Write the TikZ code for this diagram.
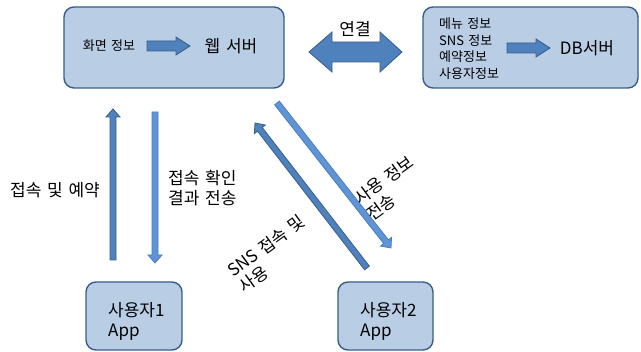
\documentclass[tikz,border=0pt]{standalone}
\usepackage{fontspec}
\setmainfont{Noto Sans CJK KR}[WordSpace=1.5]
\usetikzlibrary{calc}
\definecolor{boxfill}{HTML}{B9CDE5}
\definecolor{boxline}{HTML}{385D8A}
\definecolor{arrfill}{HTML}{4F81BD}
\definecolor{arrline}{HTML}{385D8A}
\definecolor{lightfill}{HTML}{5F95D6}
\definecolor{lightline}{HTML}{4A7EBB}
\newcommand{\blockarrow}[6]{%
  \coordinate (hb) at ($(#3)!#6!(#2)$);
  \draw[#1] ($(#2)!#4!90:(#3)$) -- ($(hb)!#4!-90:(#2)$) -- ($(hb)!#5!-90:(#2)$) -- (#3)
    -- ($(hb)!#5!90:(#2)$) -- ($(hb)!#4!90:(#2)$) -- ($(#2)!#4!-90:(#3)$) -- cycle;
}
\begin{document}
\begin{tikzpicture}[x=1pt,y=-1pt,
  box/.style={draw=boxline, line width=1.4pt, fill=boxfill, rounded corners=10pt},
  smalltext/.style={font=\fontsize{13}{16.7}\selectfont, text=black, inner sep=0pt},
  bigtext/.style={font=\fontsize{17}{20}\selectfont, text=black, inner sep=0pt},
  darkarrow/.style={fill=arrfill, draw=arrline, line width=0.8pt, line join=miter},
  lightarrow/.style={fill=lightfill, draw=lightline, line width=0.8pt, line join=miter}]
\useasboundingbox (0,0) rectangle (641,352);
% boxes
\node[box, minimum width=220pt, minimum height=81pt] (web) at (174,47.5) {};
\node[box, minimum width=215pt, minimum height=81pt] (db) at (530.5,47.5) {};
\node[box, minimum width=96pt, minimum height=68pt] (u1) at (134,316) {};
\node[box, minimum width=95pt, minimum height=68pt] (u2) at (385.5,316) {};
% web box content
\node[smalltext] (scr) at (109,46) {화면 정보};
\node[bigtext] (websrv) at (231,46) {웹 서버};
\coordinate (wa1) at (147,46);
\coordinate (wa2) at (190,46);
\blockarrow{darkarrow}{wa1}{wa2}{5pt}{9pt}{14pt}
% db box content
\node[smalltext, align=left, anchor=west] (dblist) at (439,48.5) {메뉴 정보\\SNS 정보\\예약정보\\사용자정보};
\coordinate (da1) at (507,48);
\coordinate (da2) at (550,48);
\blockarrow{darkarrow}{da1}{da2}{5pt}{9pt}{14pt}
\node[bigtext] (dbsrv) at (587,48) {DB서버};
% double arrow
\node[bigtext] (conn) at (355,29) {연결};
\coordinate (dl) at (309,52);
\coordinate (dr) at (402,52);
\draw[darkarrow] (dl) -- ++(23,-20) -- ++(0,10) -- ++(48,0) -- ++(0,-10) -- (dr)
  -- ++(-22,20) -- ++(0,-10) -- ++(-48,0) -- ++(0,10) -- cycle;
% user boxes content
\node[bigtext, align=left, anchor=west] (u1t) at (108,321) {사용자1\\App};
\node[bigtext, align=left, anchor=west] (u2t) at (360,321) {사용자2\\App};
% vertical arrows
\coordinate (v1a) at (113,260);
\coordinate (v1b) at (113,109);
\blockarrow{darkarrow}{v1a}{v1b}{3pt}{7pt}{8pt}
\coordinate (v2a) at (155,112);
\coordinate (v2b) at (155,263);
\blockarrow{lightarrow}{v2a}{v2b}{3pt}{7pt}{8pt}
\node[bigtext] (l1) at (55,190) {접속 및 예약};
\node[bigtext, align=left, anchor=west] (l2) at (168,188) {접속 확인\\결과 전송};
% diagonal arrows
\coordinate (d1a) at (367,268);
\coordinate (d1b) at (255,123);
\blockarrow{darkarrow}{d1a}{d1b}{3pt}{7pt}{8pt}
\coordinate (d2a) at (277,103);
\coordinate (d2b) at (391,248);
\blockarrow{lightarrow}{d2a}{d2b}{3pt}{7pt}{8pt}
\node[bigtext, align=left, rotate=36] (l3) at (390,188) {사용 정보\\전송};
\node[bigtext, align=left, rotate=36] (l4) at (272,254) {SNS 접속 및\\사용};
\end{tikzpicture}
\end{document}
